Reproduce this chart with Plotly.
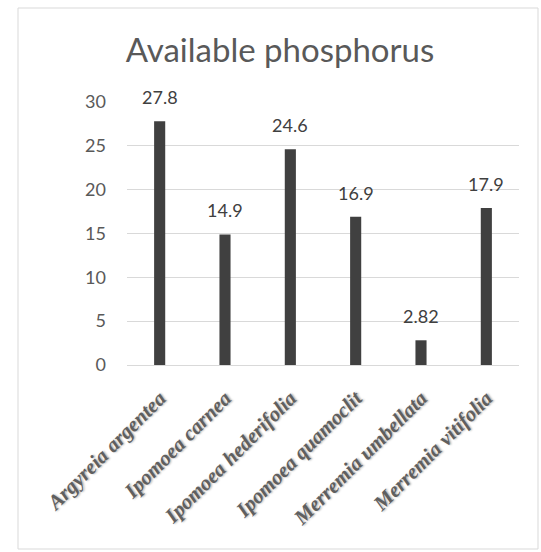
import plotly.graph_objects as go

species = ["Argyreia argentea", "Ipomoea carnea", "Ipomoea hederifolia",
           "Ipomoea quamoclit", "Merremia umbellata", "Merremia vitifolia"]
phosphorus = [27.8, 14.9, 24.6, 16.9, 2.82, 17.9]
y_ticks = [0, 5, 10, 15, 20, 25, 30]
title_text = "Available phosphorus"

W, H = 541, 552
L, R, T, B = 127, 22, 102, 187
pw, ph = W - L - R, H - T - B

fig = go.Figure()
fig.add_trace(go.Bar(
    x=species, y=phosphorus,
    marker=dict(color="#404040", line=dict(width=0)),
    hoverinfo="x+y",
))

for s, v in zip(species, phosphorus):
    fig.add_annotation(
        x=s, y=v, xref="x", yref="y", text=str(v), showarrow=False,
        yanchor="bottom", yshift=11,
        font=dict(family="Lato", size=18, color="#404040"),
    )

# chart-area border
fig.add_shape(
    type="rect", xref="paper", yref="paper",
    x0=(18 - L) / pw, x1=(538 - L) / pw,
    y0=(T + ph - 549) / ph, y1=(T + ph - 8) / ph,
    line=dict(color="#d9d9d9", width=1), fillcolor="rgba(0,0,0,0)", layer="below",
)

fig.update_layout(
    width=W, height=H,
    margin=dict(l=L, r=R, t=T, b=B, autoexpand=False),
    paper_bgcolor="white", plot_bgcolor="white",
    bargap=0.83,
    showlegend=False,
    title=dict(
        text=title_text, x=280 / W, xref="container", xanchor="center",
        y=1 - 50 / H, yref="container", yanchor="middle",
        font=dict(family="Lato", size=33, color="#595959"),
    ),
    xaxis=dict(
        tickangle=-45, showgrid=False, showline=False, zeroline=False,
        ticks="", ticklabelstandoff=16,
        tickfont=dict(family="Liberation Serif", size=21, color="#5f5f5f",
                      style="italic", weight="bold",
                      shadow="1px 1px 2px #b0b0b0"),
    ),
    yaxis=dict(
        range=[0, 30], tickvals=y_ticks, showgrid=True, gridcolor="#d9d9d9",
        gridwidth=1, zeroline=True, zerolinecolor="#d9d9d9", zerolinewidth=1,
        showline=False, ticks="", ticklabelstandoff=20,
        tickfont=dict(family="Lato", size=18, color="#595959"),
    ),
)

fig.write_html("out.html")
